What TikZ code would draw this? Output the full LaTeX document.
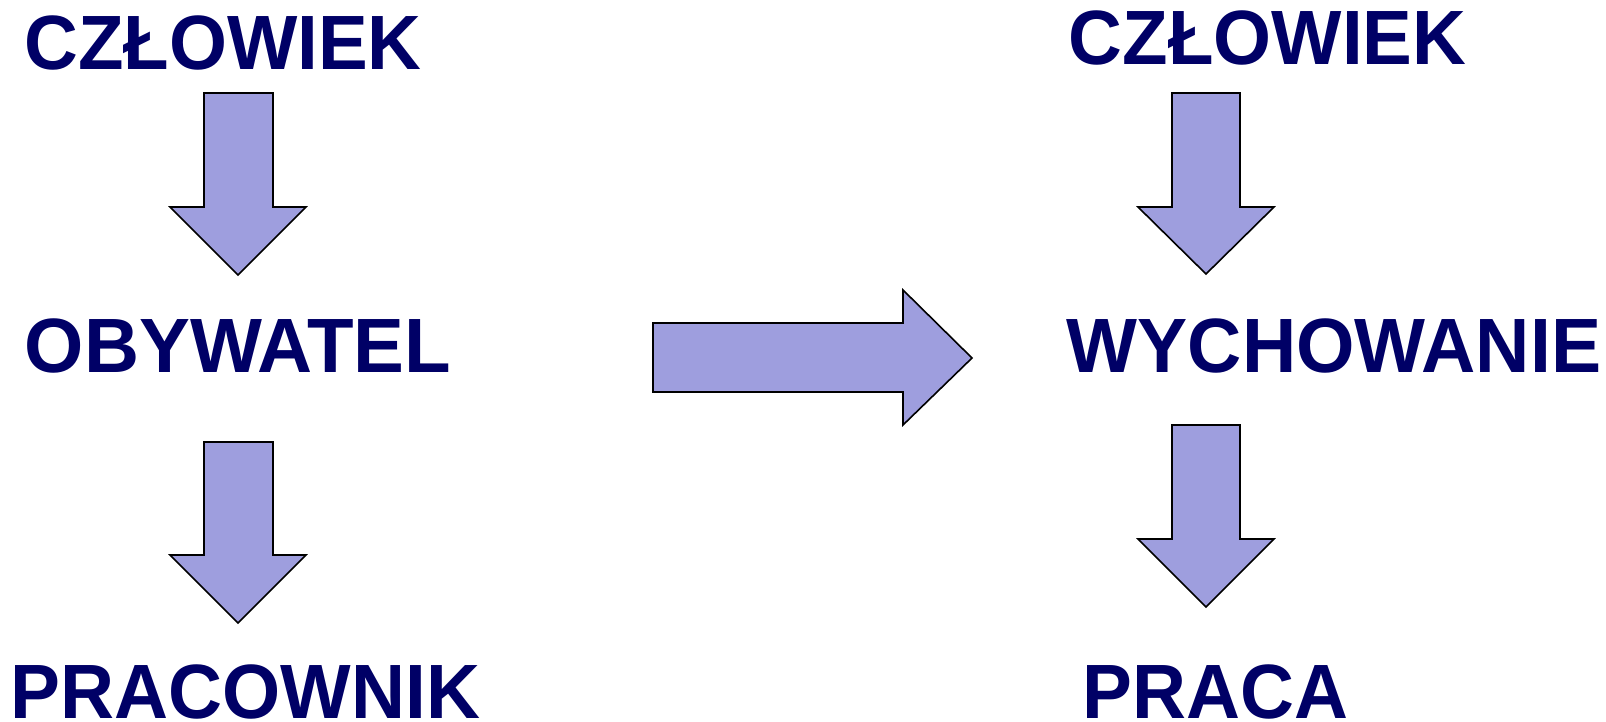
\documentclass[tikz,border=0pt]{standalone}
\usepackage{fontspec}
\setmainfont{Liberation Sans}
\definecolor{txtblue}{HTML}{000066}
\definecolor{arrowfill}{HTML}{9E9EDE}
\begin{document}
\begin{tikzpicture}[x=1pt,y=-1pt,
  word/.style={anchor=base,inner sep=0pt,text=txtblue,font=\fontsize{77}{80}\selectfont\bfseries},
  blockarrow/.style={draw=black,fill=arrowfill,line width=1.6pt,line join=miter}]
\useasboundingbox (0,0) rectangle (1606,721);
% left column
\node[word] (c1) at (223,69) {\scalebox{0.968}[1]{CZŁOWIEK}};
\node[word] (o1) at (238,372) {\scalebox{0.99}[1]{OBYWATEL}};
\node[word] (p1) at (245.5,718) {\scalebox{0.971}[1]{PRACOWNIK}};
% right column
\node[word] (c2) at (1267.5,64) {\scalebox{0.968}[1]{CZŁOWIEK}};
\node[word] (w2) at (1334,372) {\scalebox{0.976}[1]{WYCHOWANIE}};
\node[word] (p2) at (1215.5,718) {\scalebox{0.97}[1]{PRACA}};
% down arrows
\draw[blockarrow] (204,93) -- (273,93) -- (273,207) -- (306,207) -- (238,275) -- (170,207) -- (204,207) -- cycle;
\draw[blockarrow] (204,442) -- (273,442) -- (273,555) -- (306,555) -- (238,623) -- (170,555) -- (204,555) -- cycle;
\draw[blockarrow] (1172,93) -- (1240,93) -- (1240,207) -- (1274,207) -- (1206,274) -- (1138,207) -- (1172,207) -- cycle;
\draw[blockarrow] (1172,425) -- (1240,425) -- (1240,539) -- (1274,539) -- (1206,607) -- (1138,539) -- (1172,539) -- cycle;
% right arrow
\draw[blockarrow] (653,323) -- (903,323) -- (903,290) -- (972,358) -- (903,425) -- (903,392) -- (653,392) -- cycle;
\end{tikzpicture}
\end{document}
